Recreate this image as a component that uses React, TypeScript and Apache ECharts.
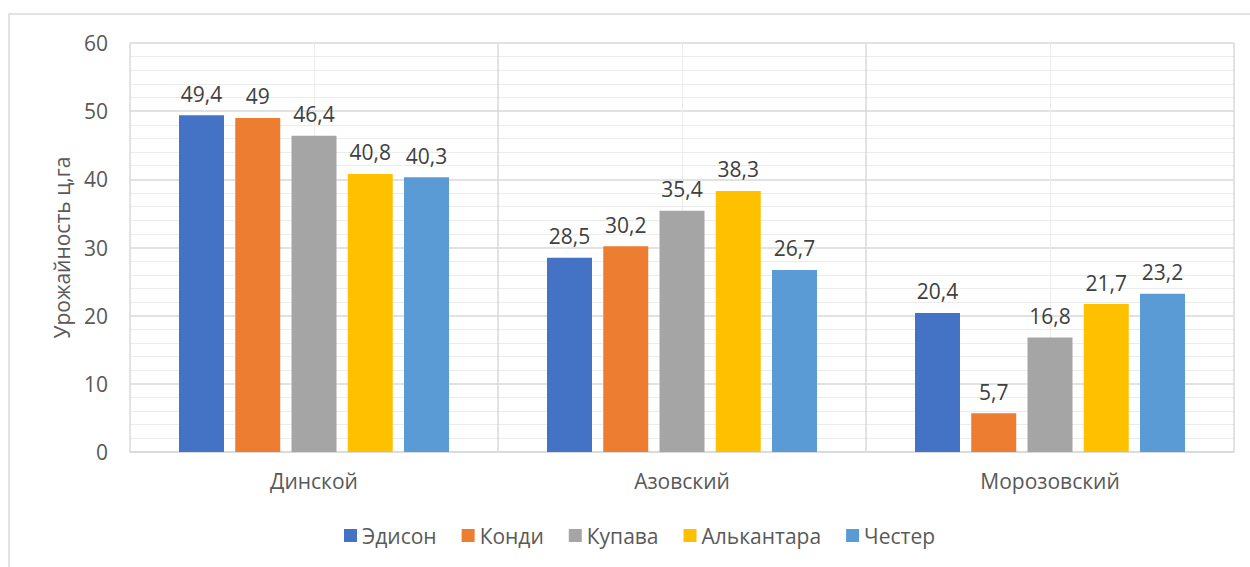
import React, { useEffect, useRef } from "react";
import * as echarts from "echarts";

const categories = ["Динской", "Азовский", "Морозовский"];
const seriesNames = ["Эдисон", "Конди", "Купава", "Алькантара", "Честер"];
const edison = [49.4, 28.5, 20.4];
const kondi = [49, 30.2, 5.7];
const kupava = [46.4, 35.4, 16.8];
const alkantara = [40.8, 38.3, 21.7];
const chester = [40.3, 26.7, 23.2];
const colors = ["#4472C4", "#ED7D31", "#A5A5A5", "#FFC000", "#5B9BD5"];
const yTicks = [0, 10, 20, 30, 40, 50, 60];

const FONT = "'Open Sans', 'Noto Sans', sans-serif";

export default function App() {
  const ref = useRef<HTMLDivElement>(null);
  useEffect(() => {
    if (!ref.current) return;
    const chart = echarts.init(ref.current, undefined, { renderer: "svg" });
    const allData = [edison, kondi, kupava, alkantara, chester];
    chart.setOption({
      animation: false,
      textStyle: { fontFamily: FONT },
      graphic: [
        {
          type: "rect",
          shape: { x: 9, y: 14, width: 1260, height: 580 },
          style: { fill: "none", stroke: "#d9d9d9", lineWidth: 1.5 },
          z: -10,
        },
      ],
      legend: {
        data: seriesNames,
        top: 520,
        left: 339,
        itemWidth: 13,
        itemHeight: 13,
        itemGap: 25,
        icon: "rect",
        textStyle: { fontSize: 21, color: "#595959", fontFamily: FONT, padding: [0, 0, 0, 0] },
      },
      grid: { left: 130, right: 16, top: 43, bottom: 115, containLabel: false },
      xAxis: [
        {
          type: "category",
          data: categories,
          axisTick: { show: false },
          axisLine: { show: true, lineStyle: { color: "#d9d9d9", width: 1.5 } },
          axisLabel: { fontSize: 21, color: "#595959", margin: 18, fontFamily: FONT },
          splitLine: { show: true, lineStyle: { color: "#d9d9d9", width: 1.5 } },
        },
        {
          type: "value",
          min: 0,
          max: 3,
          interval: 1,
          position: "top",
          axisLine: { show: false },
          axisTick: { show: false },
          axisLabel: { show: false },
          splitLine: { show: false },
          minorTick: { show: false, splitNumber: 2 },
          minorSplitLine: { show: true, lineStyle: { color: "#ececec", width: 1 } },
        },
      ],
      yAxis: {
        type: "value",
        min: yTicks[0],
        max: yTicks[yTicks.length - 1],
        interval: 10,
        name: "Урожайность ц,га",
        nameLocation: "middle",
        nameGap: 58,
        nameTextStyle: { fontSize: 21, color: "#595959", fontFamily: FONT },
        axisLine: { show: false },
        axisTick: { show: false },
        axisLabel: { fontSize: 21, color: "#595959", margin: 22, fontFamily: FONT },
        splitLine: { show: true, lineStyle: { color: "#d9d9d9", width: 1.5 } },
        minorTick: { show: false, splitNumber: 5 },
        minorSplitLine: { show: true, lineStyle: { color: "#ececec", width: 1 } },
      },
      series: seriesNames.map((name, i) => ({
        name,
        type: "bar",
        xAxisIndex: 0,
        data: allData[i],
        barWidth: 45,
        barGap: "25%",
        itemStyle: { color: colors[i] },
        label: {
          show: true,
          position: "top",
          distance: 11,
          fontSize: 21,
          color: "#404040",
          fontFamily: FONT,
          formatter: (p: any) => String(p.value).replace(".", ","),
        },
      })),
    });
    return () => chart.dispose();
  }, []);
  return (
    <div
      ref={ref}
      style={{ position: "fixed", left: 0, top: 0, width: 1250, height: 567, background: "#fff" }}
    />
  );
}
